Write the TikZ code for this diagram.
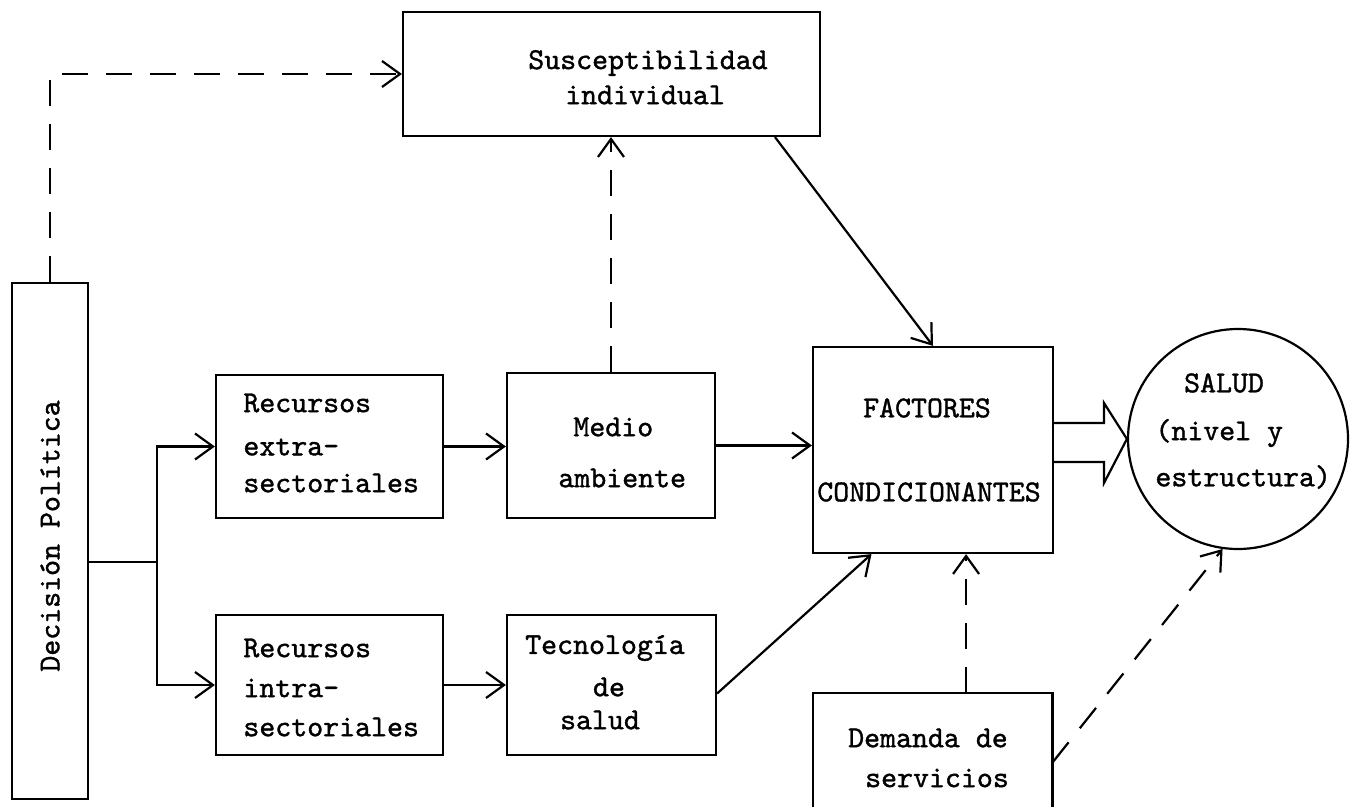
\documentclass[tikz,border=0pt]{standalone}
\usepackage{fontspec}
\newfontfamily\twfont{lmmono10-regular.otf}[FakeBold=1.2]
\usetikzlibrary{arrows.meta,calc}
\begin{document}
\begin{tikzpicture}[x=0.5pt,y=-0.5pt,
  box/.style={draw, line width=1.1pt, inner sep=0pt, rectangle},
  lbl/.style={font=\twfont\fontsize{15.2}{18}\selectfont, inner sep=0pt, anchor=center},
  lbll/.style={lbl, anchor=west},
  con/.style={line width=1.1pt, -{Straight Barb[length=9pt,width=13pt,line width=1.1pt]}},
  dcon/.style={con, dash pattern=on 13pt off 9pt},
  ln/.style={line width=1.1pt},
]
\useasboundingbox (0,0) rectangle (1353,807);

% boxes
\node[box, minimum width=38pt, minimum height=258pt] (dec) at (50,541) {};
\node[box, minimum width=208.5pt, minimum height=62pt] (susc) at (611.5,74) {};
\node[box, minimum width=113.5pt, minimum height=71.5pt] (extra) at (329.5,446.5) {};
\node[box, minimum width=104pt, minimum height=72.5pt] (medio) at (611,445.5) {};
\node[box, minimum width=113.5pt, minimum height=70pt] (intra) at (329.5,685) {};
\node[box, minimum width=104.5pt, minimum height=70pt] (tec) at (611.5,685) {};
\node[box, minimum width=120pt, minimum height=103pt] (fact) at (933,450) {};
\node[inner sep=0pt, minimum width=119.5pt, minimum height=57pt] (dem) at (932.5,750) {};
\draw[ln] (dem.south west) -- (dem.north west) -- (dem.north east) -- (dem.south east);
\node[circle, draw, line width=1.1pt, inner sep=0pt, minimum size=110pt] (salud) at (1238,439) {};

% texts
\node[lbl, rotate=90] (tdec) at (50,536) {Decisión Política};
\node[lbl] (ts1) at (648,63) {Susceptibilidad};
\node[lbl] (ts2) at (645,95) {individual};
\node[lbll] (te1) at (243,403) {Recursos};
\node[lbll] (te2) at (243,447) {extra-};
\node[lbll] (te3) at (243,483) {sectoriales};
\node[lbll] (tm1) at (573,427) {Medio};
\node[lbll] (tm2) at (558,478) {ambiente};
\node[lbll] (ti1) at (243,648) {Recursos};
\node[lbll] (ti2) at (243,688) {intra-};
\node[lbll] (ti3) at (243,727) {sectoriales};
\node[lbl] (tt1) at (605,648) {Tecnología};
\node[lbl] (tt2) at (609,687) {de};
\node[lbl] (tt3) at (600,720) {salud};
\node[lbl] (tf1) at (927,408) {FACTORES};
\node[lbl] (tf2) at (929,492) {CONDICIONANTES};
\node[lbl] (tsa1) at (1224,383) {SALUD};
\node[lbll] (tsa2) at (1155,433) {(nivel y};
\node[lbll] (tsa3) at (1155,477) {estructura)};
\node[lbl] (td1) at (928,738) {Demanda de};
\node[lbl] (td2) at (937,778) {servicios};

% connectors
\coordinate (br) at (157,562);
\draw[ln] (dec.east |- br) -- (br);
\draw[con] (br) |- (extra.west);
\draw[con] (br) |- (intra.west);
\draw[dcon] (dec.north) |- (susc.west);
\draw[con] (extra.east) -- (extra.east -| medio.west);
\draw[con] (medio.east) -- (medio.east -| fact.west);
\draw[con] (intra.east) -- (intra.east -| tec.west);
\coordinate (f1) at ($(fact.south west)!0.246!(fact.south east)$);
\coordinate (t1) at ($(tec.north east)!0.56!(tec.south east)$);
\draw[con] (t1) -- (f1);
\draw[dcon] (medio.north) -- (medio.north |- susc.south);
\coordinate (s1) at ($(susc.south west)!0.89!(susc.south east)$);
\draw[con] (s1) -- (fact.north);
\coordinate (d1) at ($(dem.north west)!0.64!(dem.north east)$);
\draw[dcon] (d1) -- (d1 |- fact.south);
\coordinate (d2) at ($(dem.north east)!0.61!(dem.south east)$);
\draw[dcon] (d2) -- (salud.262);
\draw[ln, line join=miter] (fact.east |- 0,423) -- (1104,423) -- (1104,403) -- (salud.west) -- (1104,483) -- (1104,462) -- (fact.east |- 0,462);
\end{tikzpicture}
\end{document}
